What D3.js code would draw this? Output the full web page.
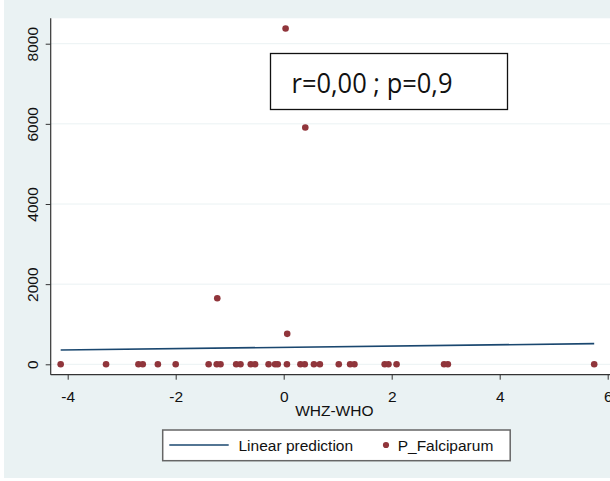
<!DOCTYPE html>
<head>
    <title>P_Falciparum vs WHZ-WHO</title>
    <script src="https://cdn.jsdelivr.net/npm/d3@7"></script>
    <style>
        body { margin: 0; background: #fff; }
    </style>
</head>
<body>
<div id="container"></div>

<script>

// Données
const whz = [-4.13, -3.29, -2.69, -2.61, -2.33, -2.00, -1.39, -1.24, -1.17, -0.88,
             -0.80, -0.61, -0.53, -0.28, -0.16, -0.11, 0.06, 0.31, 0.39, 0.56,
             0.67, 1.02, 1.23, 1.31, 1.87, 1.94, 2.09, 2.97, 3.04, 5.75,
             0.035, 0.40, -1.23, 0.065];
const falciparum = [0, 0, 0, 0, 0, 0, 0, 0, 0, 0,
                    0, 0, 0, 0, 0, 0, 0, 0, 0, 0,
                    0, 0, 0, 0, 0, 0, 0, 0, 0, 0,
                    8380, 5910, 1650, 760];

// Droite de régression (extrémités)
const predX = [-4.13, 5.75];
const predY = [357, 515];

const xTicks = [-4, -2, 0, 2, 4, 6];
const yTicks = [0, 2000, 4000, 6000, 8000];
const annotation = "r=0,00 ; p=0,9";
const xTitle = "WHZ-WHO";
const legendLabels = ["Linear prediction", "P_Falciparum"];

const width = 610;
const height = 481;
const plotLeft = 50.7;
const plotRight = 618;
const plotTop = 18.3;
const plotBottom = 374.7;

const bg = "#eaf2f3";
const navy = "#1a476f";
const maroon = "#90353b";
const font = "'Liberation Sans', Arial, sans-serif";

const svg = d3.create("svg")
              .attr("width", width)
              .attr("height", height);

// Fond
svg.append("rect")
   .attr("x", 4).attr("y", 0)
   .attr("width", width - 4).attr("height", 478)
   .attr("fill", bg);

svg.append("rect")
   .attr("x", plotLeft).attr("y", plotTop)
   .attr("width", plotRight - plotLeft).attr("height", plotBottom - plotTop)
   .attr("fill", "white");

const x = d3.scaleLinear()
            .domain([-4, 6])
            .range([67.7, 607.7]);

const y = d3.scaleLinear()
            .domain([0, 8000])
            .range([364.3, 43.7]);

// Grille
svg.append("g")
   .selectAll("line")
   .data(yTicks)
   .enter().append("line")
   .attr("x1", plotLeft).attr("x2", plotRight)
   .attr("y1", d => y(d)).attr("y2", d => y(d))
   .attr("stroke", bg)
   .attr("stroke-width", 1);

// Axe Y
const yAxis = svg.append("g")
   .attr("transform", `translate(${plotLeft},0)`)
   .call(d3.axisLeft(y).tickValues(yTicks).tickSize(5).tickFormat(d => String(d)));
yAxis.select(".domain").remove();
yAxis.selectAll("line").attr("stroke", "#333");
yAxis.selectAll("text")
     .attr("x", null).attr("dy", null)
     .attr("transform", "translate(-13,0) rotate(-90)")
     .attr("text-anchor", "middle")
     .style("font-size", "15.5px")
     .style("font-family", font)
     .attr("fill", "#111");

// Axe X (tirets simples comme dans Stata)
const xAxis = svg.append("g")
   .attr("transform", `translate(0,${plotBottom})`)
   .call(d3.axisBottom(x).tickValues(xTicks).tickSize(5).tickPadding(11).tickFormat(d => String(d)));
xAxis.select(".domain").remove();
xAxis.selectAll("line").attr("stroke", "#333");
xAxis.selectAll("text")
     .style("font-size", "15.5px")
     .style("font-family", font)
     .attr("fill", "#111");

// Lignes d'axes
svg.append("line")
   .attr("x1", plotLeft).attr("x2", plotLeft)
   .attr("y1", plotTop).attr("y2", plotBottom)
   .attr("stroke", "#333").attr("stroke-width", 1.2);
svg.append("line")
   .attr("x1", plotLeft).attr("x2", plotRight)
   .attr("y1", plotBottom).attr("y2", plotBottom)
   .attr("stroke", "#333").attr("stroke-width", 1.2);

// Titre X
svg.append("text")
   .attr("x", (plotLeft + plotRight) / 2)
   .attr("y", 415.5)
   .attr("text-anchor", "middle")
   .style("font-size", "15.5px")
   .style("font-family", font)
   .attr("fill", "#111")
   .text(xTitle);

// Droite de prédiction
const line = d3.line()
               .x(d => x(d[0]))
               .y(d => y(d[1]));
svg.append("path")
   .datum(d3.zip(predX, predY))
   .attr("d", line)
   .attr("fill", "none")
   .attr("stroke", navy)
   .attr("stroke-width", 1.6);

// Points
svg.append("g")
   .selectAll("circle")
   .data(d3.zip(whz, falciparum))
   .enter().append("circle")
   .attr("cx", d => x(d[0]))
   .attr("cy", d => y(d[1]))
   .attr("r", 3.3)
   .attr("fill", maroon);

// Encadré r / p
svg.append("rect")
   .attr("x", 270.5).attr("y", 53.5)
   .attr("width", 237).attr("height", 56)
   .attr("fill", "white")
   .attr("stroke", "#111")
   .attr("stroke-width", 1.3);
svg.append("text")
   .attr("x", 291.5)
   .attr("y", 93)
   .attr("textLength", 161)
   .attr("lengthAdjust", "spacingAndGlyphs")
   .style("font-size", "28px")
   .style("font-family", "'Open Sans', 'Noto Sans', sans-serif")
   .attr("fill", "#111")
   .text(annotation);

// Légende
const legend = svg.append("g");
legend.append("rect")
      .attr("x", 162.7).attr("y", 430)
      .attr("width", 347.5).attr("height", 30.7)
      .attr("fill", "white")
      .attr("stroke", "#666")
      .attr("stroke-width", 1.5);
legend.append("line")
      .attr("x1", 169.3).attr("x2", 228.7)
      .attr("y1", 445).attr("y2", 445)
      .attr("stroke", navy)
      .attr("stroke-width", 1.6);
legend.append("circle")
      .attr("cx", 386).attr("cy", 445)
      .attr("r", 3.1)
      .attr("fill", maroon);
legend.selectAll("text")
      .data(legendLabels)
      .enter().append("text")
      .attr("x", (d, i) => i === 0 ? 238.5 : 397.7)
      .attr("y", 450.5)
      .style("font-size", "15.5px")
      .style("font-family", font)
      .attr("fill", "#111")
      .text(d => d);

container.append(svg.node());

</script>
</body>
